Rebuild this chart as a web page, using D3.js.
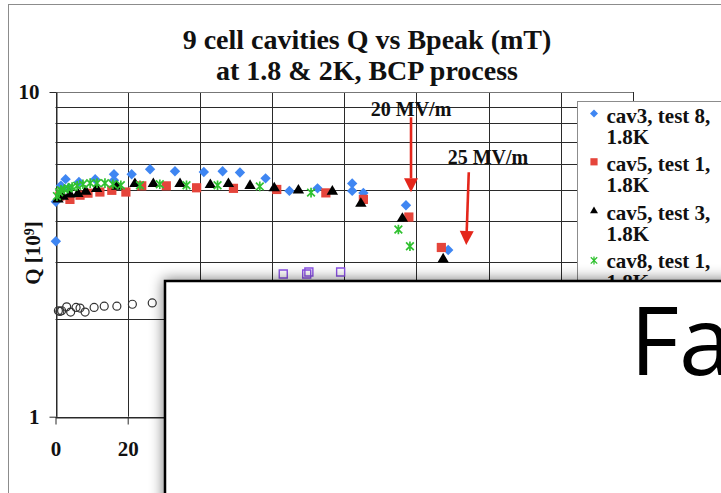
<!DOCTYPE html>
<html>
<head>
<meta charset="utf-8">
<script src="https://cdn.jsdelivr.net/npm/d3@7"></script>
<style>
  html, body { margin: 0; padding: 0; background: #fff; overflow: hidden; }
  text { font-family: "Liberation Serif", "Times New Roman", serif; font-weight: bold; fill: #111; }
</style>
</head>
<body>
<svg id="chart" width="721" height="493"></svg>
<script>
// ---- data: [Bpeak (mT), Q (10^9)] ----
const cav3Test8 = [
  [0.1, 3.47], [0.1, 4.59], [1.5, 5.15], [2.8, 5.39], [3.6, 5.05], [6.5, 5.28], [11.0, 5.39],
  [16.2, 5.58], [16.2, 5.35], [21.1, 5.58], [26.2, 5.78], [33.1, 5.70], [41.1, 5.67],
  [46.3, 5.70], [51.1, 5.65], [58.2, 5.42], [64.8, 4.96], [72.6, 5.05], [82.2, 5.23],
  [82.2, 4.96], [85.3, 4.89], [97.1, 4.48], [108.8, 3.26]
];
const cav5Test1 = [
  [1.2, 4.78], [4.0, 4.67], [6.8, 4.81], [9.0, 4.88], [12.3, 4.92], [15.6, 4.98], [19.5, 4.92],
  [23.9, 5.14], [30.7, 5.14], [39.1, 5.07], [49.3, 5.05], [61.3, 5.01], [74.9, 4.89],
  [85.3, 4.67], [97.9, 4.12], [106.9, 3.32]
];
const cav5Test3 = [
  [0.7, 4.71], [2.1, 4.81], [4.0, 4.88], [6.2, 4.90], [8.4, 4.98], [11.4, 5.08], [17.0, 5.16],
  [22.0, 5.26], [27.1, 5.26], [34.5, 5.26], [42.9, 5.22], [47.9, 5.26], [53.9, 5.19],
  [60.6, 5.10], [67.3, 5.02], [76.7, 4.98], [84.6, 4.57], [96.1, 4.11], [107.4, 3.08]
];
const cav8Test1 = [
  [0.4, 4.78], [1.0, 4.91], [1.5, 4.98], [2.4, 5.02], [3.5, 5.05], [4.6, 5.10], [6.0, 5.14],
  [7.6, 5.20], [9.6, 5.24], [11.5, 5.24], [13.7, 5.24], [15.9, 5.20], [18.1, 5.16],
  [23.4, 5.16], [28.9, 5.20], [36.3, 5.16], [44.9, 5.16], [56.6, 5.12], [70.8, 4.90],
  [95.0, 3.77], [98.2, 3.35]
];
const run2K = [
  [0.8, 2.12], [1.2, 2.11], [1.7, 2.12], [3.1, 2.18], [4.2, 2.10], [5.7, 2.17], [6.8, 2.16],
  [8.2, 2.10], [10.7, 2.17], [13.5, 2.19], [17.0, 2.19], [21.3, 2.22], [26.8, 2.24]
];
const runPurple = [[63.1, 2.75], [69.6, 2.75], [70.2, 2.79], [79.0, 2.79]];

const xTicks = [0, 20, 40, 60, 80, 100, 120, 140, 160];
const yTicks = [1, 10];
const yGrid = [1, 2, 3, 4, 5, 6, 7, 8, 9, 10];

const titleLines = ["9 cell cavities Q vs Bpeak (mT)", "at 1.8 & 2K, BCP process"];
const yLabel = "Q [10";
const yLabelSup = "9";

const legendNames = [
  ["cav3, test 8,", "1.8K"],
  ["cav5, test 1,", "1.8K"],
  ["cav5, test 3,", "1.8K"],
  ["cav8, test 1,", "1.8K"]
];

// gradient markers: label, arrow start [x, Q], arrow end [x, Q]
const fieldMarks = [
  { label: "20 MV/m", labelAt: [98.5, 8.45], from: [98.5, 8.36], to: [98.5, 4.91] },
  { label: "25 MV/m", labelAt: [119.8, 6.0], from: [114.5, 5.66], to: [113.8, 3.38] }
];

const overlayText = "Fa";

// ---- drawing ----
const svg = d3.select("#chart");
const x = d3.scaleLinear().domain([0, 160]).range([55.5, 633]);
const y = d3.scaleLog().domain([1, 10]).range([416.7, 92]);

// outer chart frame
svg.append("rect")
  .attr("x", 8.5).attr("y", 4.5).attr("width", 800).attr("height", 600)
  .attr("fill", "none").attr("stroke", "#8c8c8c").attr("stroke-width", 1);

// title
svg.append("g").selectAll("text").data(titleLines).join("text")
  .attr("x", 367).attr("y", (d, i) => 49 + i * 30.5)
  .attr("text-anchor", "middle").style("font-size", "28px")
  .text(d => d);

// grid
const grid = svg.append("g").attr("stroke", "#2a2a2a").attr("stroke-width", 1);
grid.selectAll("line.v").data(xTicks).join("line").attr("class", "v")
  .attr("x1", d => Math.round(x(d)) + 0.5).attr("x2", d => Math.round(x(d)) + 0.5)
  .attr("y1", y(10)).attr("y2", y(1));
grid.selectAll("line.h").data(yGrid).join("line").attr("class", "h")
  .attr("x1", x(0)).attr("x2", x(160))
  .attr("y1", d => Math.round(y(d)) + 0.5).attr("y2", d => Math.round(y(d)) + 0.5)
  .attr("stroke", d => d === 10 ? "#777" : "#2a2a2a");

// axes
const yAxis = d3.axisLeft(y).tickValues(yTicks).tickSize(7).tickSizeOuter(0)
  .tickPadding(10).tickFormat(d3.format("d"));
const gy = svg.append("g").attr("transform", `translate(${Math.round(x(0)) + 0.5},0)`).call(yAxis);
gy.selectAll("text").style("font-size", "21px").style("font-family", "Liberation Serif").style("font-weight", "bold").attr("fill", "#111");
gy.selectAll("line,path").attr("stroke", "#2a2a2a");

const xAxis = d3.axisBottom(x).tickValues(xTicks).tickSize(7).tickSizeOuter(0)
  .tickPadding(17).tickFormat(d3.format("d"));
const gx = svg.append("g").attr("transform", `translate(0,${Math.round(y(1)) + 0.5})`).call(xAxis);
gx.selectAll("text").style("font-size", "21px").style("font-family", "Liberation Serif").style("font-weight", "bold").attr("fill", "#111");
gx.selectAll("line,path").attr("stroke", "#2a2a2a");

// y axis title
const yt = svg.append("text")
  .attr("transform", "translate(40,253) rotate(-90)")
  .attr("text-anchor", "middle").style("font-size", "21px");
yt.append("tspan").text(yLabel);
yt.append("tspan").attr("dy", "-0.45em").style("font-size", "14px").text(yLabelSup);
yt.append("tspan").attr("dy", "0.3em").text("]");

// marker shapes
const shapes = {
  diamond: r => `M0,${-r}L${r},0L0,${r}L${-r},0Z`,
  square: r => `M${-r},${-r}H${r}V${r}H${-r}Z`,
  triangle: r => `M0,${-r}L${r * 1.1},${r * 0.85}L${-r * 1.1},${r * 0.85}Z`,
  asterisk: r => `M${-r * 0.8},${-r * 0.8}L${r * 0.8},${r * 0.8}M${-r * 0.8},${r * 0.8}L${r * 0.8},${-r * 0.8}M0,${-r}L0,${r}`
};

const series = [
  { data: cav3Test8, shape: "diamond", r: 5.2, fill: "#3f86f2", stroke: "none" },
  { data: cav5Test1, shape: "square", r: 4.6, fill: "#e5453b", stroke: "none" },
  { data: cav5Test3, shape: "triangle", r: 5.2, fill: "#000", stroke: "none" },
  { data: cav8Test1, shape: "asterisk", r: 4.8, fill: "none", stroke: "#2fc12f", sw: 1.7 }
];

const marks = svg.append("g");
// 2K open circles
marks.append("g").selectAll("circle").data(run2K).join("circle")
  .attr("cx", d => x(d[0])).attr("cy", d => y(d[1])).attr("r", 4)
  .attr("fill", "none").attr("stroke", "#333").attr("stroke-width", 1.2);
// open purple squares
marks.append("g").selectAll("path").data(runPurple).join("path")
  .attr("transform", d => `translate(${x(d[0])},${y(d[1])})`)
  .attr("d", shapes.square(4))
  .attr("fill", "none").attr("stroke", "#8b52e6").attr("stroke-width", 1.4);

series.forEach(s => {
  marks.append("g").selectAll("path").data(s.data).join("path")
    .attr("transform", d => `translate(${x(d[0])},${y(d[1])})`)
    .attr("d", shapes[s.shape](s.r))
    .attr("fill", s.fill).attr("stroke", s.stroke).attr("stroke-width", s.sw || 0);
});

// field annotations and arrows
const ann = svg.append("g");
fieldMarks.forEach(m => {
  ann.append("text").attr("x", x(m.labelAt[0]))
    .attr("y", y(m.labelAt[1]))
    .attr("text-anchor", "middle").style("font-size", "20px").text(m.label);
  const x1 = x(m.from[0]), y1 = y(m.from[1]), x2 = x(m.to[0]), y2 = y(m.to[1]);
  const ang = Math.atan2(y2 - y1, x2 - x1);
  const hl = 14, hw = 7;
  const bx = x2 - hl * Math.cos(ang), by = y2 - hl * Math.sin(ang);
  ann.append("line").attr("x1", x1).attr("y1", y1).attr("x2", bx).attr("y2", by)
    .attr("stroke", "#e4261b").attr("stroke-width", 2.6);
  ann.append("path")
    .attr("d", `M${x2},${y2}L${bx - hw * Math.sin(ang)},${by + hw * Math.cos(ang)}L${bx + hw * Math.sin(ang)},${by - hw * Math.cos(ang)}Z`)
    .attr("fill", "#e4261b");
});

// legend
const lg = svg.append("g").attr("transform", "translate(577.5,101.5)");
lg.append("rect").attr("width", 300).attr("height", 300)
  .attr("fill", "#fff").attr("stroke", "#8c8c8c");
legendNames.forEach((names, i) => {
  const s = series[i];
  const row = lg.append("g").attr("transform", `translate(0,${i * 48.3})`);
  const lr = s.shape === "asterisk" ? 4 : (s.shape === "diamond" ? 4 : 3.6);
  row.append("path").attr("transform", `translate(16.5,${s.shape === "asterisk" ? 14 : 12})`)
    .attr("d", shapes[s.shape](lr))
    .attr("fill", s.fill).attr("stroke", s.stroke).attr("stroke-width", s.sw ? 1.3 : 0);
  row.selectAll("text").data(names).join("text")
    .attr("x", 29).attr("y", (d, j) => 21.5 + j * 21)
    .style("font-size", "21px").text(d => d);
});

// dialog panel covering the lower part of the chart
const defs = svg.append("defs");
const f = defs.append("filter").attr("id", "shade").attr("x", "-20%").attr("y", "-20%").attr("width", "140%").attr("height", "140%");
f.append("feGaussianBlur").attr("stdDeviation", 7);

const panel = svg.append("g");
panel.append("rect").attr("x", 163).attr("y", 279).attr("width", 700).attr("height", 400)
  .attr("fill", "#000").attr("opacity", 0.5).attr("filter", "url(#shade)");
panel.append("rect").attr("x", 165).attr("y", 281).attr("width", 700).attr("height", 400)
  .attr("fill", "#fff").attr("stroke", "#000").attr("stroke-width", 2.5);
panel.append("text").attr("x", 630).attr("y", 375)
  .style("font-family", "'Open Sans', sans-serif").style("font-weight", "400")
  .style("font-size", "95px").style("fill", "#000")
  .text(overlayText);
</script>
</body>
</html>
